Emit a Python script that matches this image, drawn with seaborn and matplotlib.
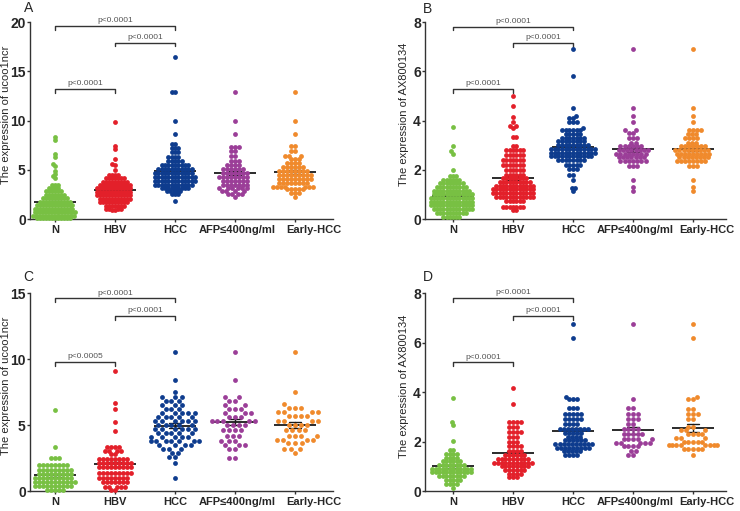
import numpy as np
import pandas as pd
import matplotlib.pyplot as plt
import matplotlib.transforms as mtransforms
import seaborn as sns

groups = ['N', 'HBV', 'HCC', 'AFP≤400ng/ml', 'Early-HCC']
colors = ['#78c043', '#e3202a', '#0e3c8e', '#9b3e98', '#f08a2c']

# A - ucoo1ncr (cohort 1)
a_n = ([0.1]*12 + [0.35]*15 + [0.7]*15 + [1.05]*14 + [1.4]*13 + [1.75]*11 + [2.1]*9
       + [2.45]*7 + [2.8]*6 + [3.15]*4 + [3.5]*3 + [4.2, 4.4, 4.6, 4.9, 5.4, 5.6, 6.3, 6.6, 8.0, 8.3])
a_hbv = ([0.9]*2 + [1.0]*4 + [1.35]*7 + [1.7]*10 + [2.05]*11 + [2.4]*12 + [2.75]*12 + [3.1]*12
         + [3.45]*11 + [3.8]*9 + [4.15]*7 + [4.5]*4 + [5.0, 5.5, 5.6, 6.1, 7.1, 7.4, 9.9])
a_hcc = ([1.8] + [2.5]*3 + [2.8]*5 + [3.1]*9 + [3.5]*12 + [3.9]*13 + [4.3]*13 + [4.7]*12 + [5.1]*11
         + [5.5]*9 + [5.9]*5 + [6.3]*4 + [6.8]*3 + [7.2]*3 + [7.6]*2 + [8.6, 10.0, 12.9, 12.9, 16.4])
a_afp = ([2.2] + [2.5]*4 + [2.8]*4 + [3.1]*6 + [3.5]*7 + [3.9]*7 + [4.3]*8 + [4.7]*7 + [5.1]*6
         + [5.5]*4 + [5.9]*3 + [6.4]*2 + [6.9]*2 + [7.3]*3 + [8.6, 10.0, 12.9])
a_early = ([2.2] + [2.6]*3 + [3.0]*5 + [3.3]*7 + [3.7]*8 + [4.1]*9 + [4.5]*9 + [4.9]*8 + [5.3]*6
           + [5.7]*4 + [6.1]*3 + [6.4]*3 + [6.9]*2 + [7.4]*2 + [8.6, 10.0, 12.9])

# B - AX800134 (cohort 1)
b_n = ([0.1]*6 + [0.25]*10 + [0.4]*13 + [0.55]*14 + [0.7]*14 + [0.85]*14 + [1.0]*13 + [1.15]*12
       + [1.3]*10 + [1.45]*8 + [1.6]*6 + [1.75]*3 + [2.0, 2.65, 2.75, 2.95, 3.75])
b_hbv = ([0.35]*2 + [0.5]*7 + [0.75]*6 + [0.9]*12 + [1.05]*13 + [1.2]*13 + [1.35]*12 + [1.5]*10
         + [1.65]*8 + [1.8]*6 + [2.0]*6 + [2.2]*7 + [2.4]*7 + [2.6]*6 + [2.8]*6 + [2.95]*2 + [3.35]*2
         + [3.7, 3.78, 3.78, 3.95, 4.15, 4.6, 5.0])
b_hcc = ([1.12, 1.25, 1.25, 1.6, 1.8, 1.8] + [2.05]*3 + [2.2]*5 + [2.4]*8 + [2.55]*12 + [2.7]*13
         + [2.85]*13 + [3.0]*9 + [3.15]*8 + [3.3]*7 + [3.45]*5 + [3.6]*6
         + [3.7, 3.95, 3.95, 3.95, 4.1, 4.1, 4.2, 4.5, 5.8, 6.9])
b_afp = ([1.12, 1.3, 1.6] + [2.15]*3 + [2.35]*7 + [2.5]*7 + [2.65]*8 + [2.8]*8 + [2.95]*6 + [3.1]*2
         + [3.3]*3 + [3.5]*2 + [3.6]*2 + [3.95, 4.2, 4.5, 6.9])
b_early = ([1.12, 1.3, 1.6] + [2.15]*3 + [2.35]*8 + [2.5]*8 + [2.65]*9 + [2.8]*9 + [2.95]*7 + [3.1]*3
           + [3.3]*4 + [3.45]*3 + [3.6]*4 + [3.95, 4.2, 4.5, 6.9])

# C - ucoo1ncr (cohort 2)
c_n = ([0.05]*5 + [0.35]*10 + [0.65]*11 + [0.95]*10 + [1.3]*9 + [1.6]*9 + [1.95]*8 + [2.5]*3 + [3.35, 6.1])
c_hbv = ([0.05]*2 + [0.3]*5 + [0.65]*7 + [1.0]*8 + [1.4]*9 + [1.8]*9 + [2.15]*9 + [2.45]*8 + [2.8]*2
         + [3.05]*4 + [3.35]*4 + [4.55, 5.25, 6.25, 6.65, 9.1])
c_hcc = ([1.0, 2.1, 2.55, 2.55, 2.9, 2.9] + [3.2]*3 + [3.5]*4 + [3.8]*7 + [4.1]*5 + [4.4]*5 + [4.7]*6
         + [5.0]*5 + [5.3]*6 + [5.6]*5 + [5.9]*5 + [6.2]*3 + [6.5]*3 + [6.8]*3 + [7.1]*3 + [7.5, 8.4, 10.5])
c_afp = ([2.5]*2 + [3.2]*2 + [3.5]*3 + [3.8]*3 + [4.2]*3 + [4.6]*4 + [5.0]*4 + [5.3]*5 + [5.6]*3
         + [5.9]*3 + [6.2]*3 + [6.5]*2 + [6.8]*2 + [7.1]*2 + [8.4, 10.5])
c_early = ([2.9] + [3.2]*3 + [3.6]*3 + [3.9]*4 + [4.2]*4 + [4.6]*4 + [5.0]*4 + [5.3]*4 + [5.7]*4
           + [6.0]*4 + [6.3]*3 + [6.6, 7.5, 10.5])

# D - AX800134 (cohort 2)
d_n = ([0.12] + [0.3]*4 + [0.45]*5 + [0.6]*8 + [0.75]*12 + [0.9]*12 + [1.05]*8 + [1.2]*6
       + [1.35]*4 + [1.5]*4 + [1.65]*2 + [2.03, 2.67, 2.8, 3.75])
d_hbv = ([0.55]*3 + [0.7]*4 + [0.85]*6 + [1.0]*8 + [1.15]*11 + [1.3]*9 + [1.45]*6 + [1.6]*4
         + [1.8]*4 + [2.0]*3 + [2.2]*3 + [2.4]*4 + [2.6]*3 + [2.8]*4 + [3.5, 4.15])
d_hcc = ([1.45]*4 + [1.6]*5 + [1.75]*9 + [1.9]*10 + [2.05]*6 + [2.2]*4 + [2.35]*5 + [2.5]*8 + [2.7]*4
         + [2.9]*5 + [3.1]*5 + [3.35]*3 + [3.7]*3 + [3.8, 6.2, 6.75])
d_afp = ([1.44]*2 + [1.6]*2 + [1.8]*4 + [1.95]*5 + [2.1]*5 + [2.3]*5 + [2.5]*4 + [2.7]*2 + [2.9]*3
         + [3.1]*3 + [3.35]*2 + [3.7, 6.75])
d_early = ([1.46] + [1.7]*5 + [1.85]*8 + [2.0]*5 + [2.15]*3 + [2.3]*4 + [2.45]*3 + [2.6]*2 + [2.9]*2
           + [3.1]*3 + [3.3]*2 + [3.7]*2 + [3.8, 6.2, 6.75])

sns.set_style('ticks')
plt.rcParams['font.family'] = ['Liberation Sans', 'DejaVu Sans']

fig = plt.figure(figsize=(7.4, 5.11), dpi=100)


def draw_panel(rect, xlim, letter, letter_xy, values, ylabel, label_x, ymax, yticks,
               brk_y, p_labels, spreads, label_shift):
    ax = fig.add_axes(rect)
    # swarm laid out with a small marker per group, then dots drawn bigger (Prism-like overlap)
    for k, (g, v) in enumerate(zip(groups, values)):
        ax.set_xlim(*xlim)
        ax.set_ylim(0, ymax)
        sns.swarmplot(x=[g] * len(v), y=v, order=groups, color=colors[k], size=spreads[k],
                      linewidth=0, warn_thresh=1, ax=ax)
        for coll in ax.collections:
            coll.__dict__.pop('draw', None)
            coll.set_sizes([12])
            coll.set_clip_on(False)
    df = pd.DataFrame({'group': np.repeat(groups, [len(v) for v in values]),
                       'value': np.concatenate(values)})
    sns.pointplot(data=df, x='group', y='value', order=groups, errorbar='se', color='#1a1a1a',
                  marker='_', markersize=30, markeredgewidth=1.3, linestyle='none', capsize=0.2,
                  err_kws={'linewidth': 1.0}, ax=ax)
    ax.set_xlim(*xlim)
    ax.set_ylim(0, ymax)
    ax.set_yticks(yticks)
    ax.set_xlabel('')
    ax.set_ylabel(ylabel, fontsize=8)
    ax.yaxis.set_label_coords(label_x, 0.53)
    sns.despine(ax=ax)
    for s in ['left', 'bottom']:
        ax.spines[s].set_color('#333333')
        ax.spines[s].set_linewidth(1.0)
    ax.tick_params(axis='y', labelsize=10, length=2, width=1, pad=1, color='#333333')
    ax.tick_params(axis='x', labelsize=8, length=2, width=1, pad=2, color='#333333')
    for t in ax.get_yticklabels() + ax.get_xticklabels():
        t.set_fontweight('bold')
    xt = ax.get_xticklabels()
    for k, dx in ((3, 2), (4, label_shift)):
        xt[k].set_transform(xt[k].get_transform()
                            + mtransforms.ScaledTranslation(dx / 100, 0, fig.dpi_scale_trans))

    h = ymax * 0.018
    for (i, j), y, lab in zip([(0, 2), (1, 2), (0, 1)], brk_y, p_labels):
        ax.plot([i, i, j, j], [y - h, y, y, y - h], color='#333333', lw=1, clip_on=False)
        ax.text((i + j) / 2, y + ymax * 0.008, lab, ha='center', va='bottom',
                fontsize=6, color='#555555')
    fig.text(letter_xy[0], letter_xy[1], letter, fontsize=10, ha='center', va='center')
    return ax


draw_panel([0.0405, 0.5714, 0.4095, 0.3855], (-0.417, 4.633), 'A', (0.038, 0.985),
           [a_n, a_hbv, a_hcc, a_afp, a_early], 'The expression of ucoo1ncr', -0.063, 20,
           [0, 5, 10, 15, 20], [19.6, 17.9, 13.2], ['p<0.0001'] * 3,
           [2.0, 2.1, 2.3, 2.8, 2.7], 19)
draw_panel([0.5743, 0.5714, 0.4068, 0.3855], (-0.467, 4.55), 'B', (0.578, 0.983),
           [b_n, b_hbv, b_hcc, b_afp, b_early], 'The expression of AX800134', -0.053, 8,
           [0, 2, 4, 6, 8], [7.8, 7.15, 5.28], ['p<0.0001'] * 3,
           [2.2, 2.3, 2.5, 2.9, 2.8], 14)
draw_panel([0.0405, 0.0391, 0.4095, 0.3875], (-0.417, 4.633), 'C', (0.038, 0.457),
           [c_n, c_hbv, c_hcc, c_afp, c_early], 'The expression of ucoo1ncr', -0.063, 15,
           [0, 5, 10, 15], [14.6, 13.26, 9.77], ['p<0.0001', 'p<0.0001', 'p<0.0005'],
           [2.7, 2.8, 3.8, 4.0, 4.2], 19)
draw_panel([0.5743, 0.0391, 0.4068, 0.3875], (-0.467, 4.55), 'D', (0.578, 0.457),
           [d_n, d_hbv, d_hcc, d_afp, d_early], 'The expression of AX800134', -0.053, 8,
           [0, 2, 4, 6, 8], [7.8, 7.07, 5.2], ['p<0.0001'] * 3,
           [2.4, 2.6, 2.8, 3.2, 3.2], 14)

fig.savefig('out.png', dpi=100)
